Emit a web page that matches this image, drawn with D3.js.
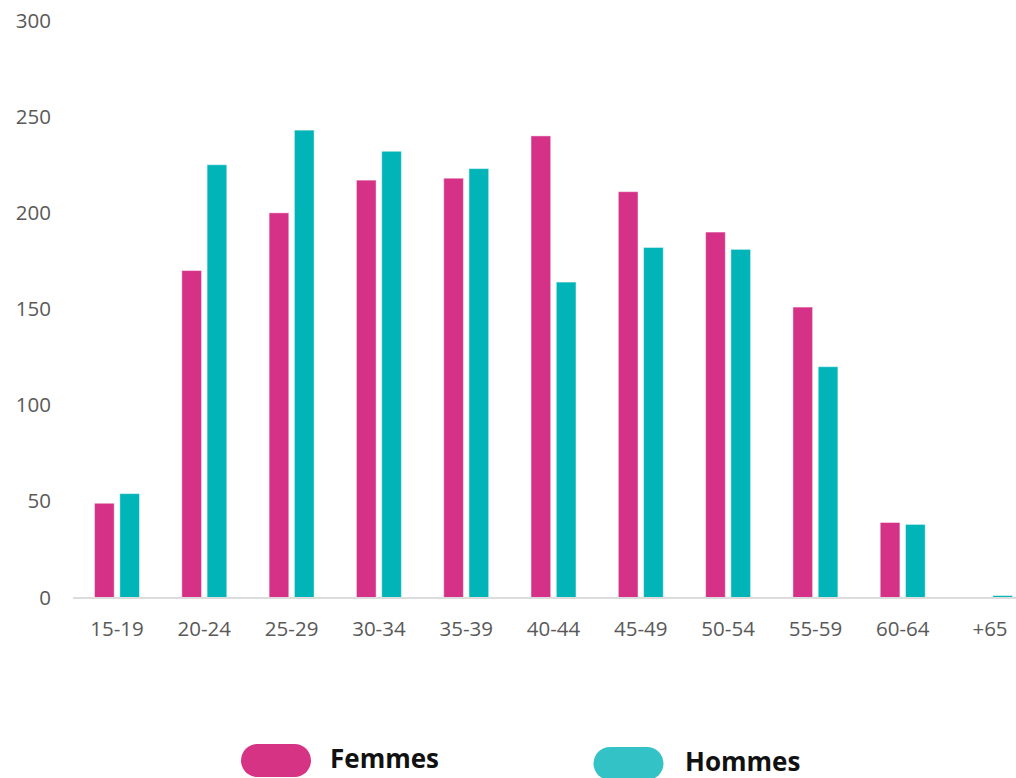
<!DOCTYPE html>
<html><head><meta charset="utf-8">
<script src="https://cdn.jsdelivr.net/npm/d3@7/dist/d3.min.js"></script>
<style>html,body{margin:0;padding:0;background:#fff;overflow:hidden}</style>
</head><body>
<script>
const categories = ["15-19","20-24","25-29","30-34","35-39","40-44","45-49","50-54","55-59","60-64","+65"];
const femmes = [49,170,200,217,218,240,211,190,151,39,0];
const hommes = [54,225,243,232,223,164,182,181,120,38,1];
const yTicks = [0,50,100,150,200,250,300];
const seriesNames = ["Femmes","Hommes"];
const barColors = ["#d53287","#00b4b8"];
const legendColors = ["#d63384","#33c2c6"];

const W=1016,H=778;
const svg=d3.select("body").append("svg").attr("width",W).attr("height",H)
  .style("font-family","'Open Sans', sans-serif");

const y=d3.scaleLinear().domain([0,300]).range([597.5,20.5]);
const x0=d3.scaleBand().domain(categories).range([73.35,1033.65]).paddingInner(0.485).paddingOuter(0.2425);
const x1=d3.scaleBand().domain(seriesNames).range([0,x0.bandwidth()]).paddingInner(0.222).paddingOuter(0);

// y labels
const yAxis=d3.axisLeft(y).tickValues(yTicks).tickSize(0).tickPadding(0);
const gy=svg.append("g").attr("transform","translate(51,0)").call(yAxis);
gy.select(".domain").remove();
gy.selectAll("text").attr("fill","#595959").style("font-size","20.5px").style("font-family","'Open Sans', sans-serif");

// bars
const data=categories.map((c,i)=>({c,vals:[femmes[i],hommes[i]]}));
const groups=svg.append("g").selectAll("g").data(data).join("g")
  .attr("transform",d=>`translate(${x0(d.c)},0)`);
groups.selectAll("rect").data(d=>d.vals.map((v,j)=>({v,j}))).join("rect")
  .attr("x",d=>x1(seriesNames[d.j]))
  .attr("width",x1.bandwidth())
  .attr("y",d=>y(d.v))
  .attr("height",d=>y(0)-y(d.v))
  .attr("fill",d=>barColors[d.j])
  .attr("stroke","rgba(255,255,255,0.45)")
  .attr("stroke-width",1);

// x axis
const xAxis=d3.axisBottom(x0).tickSize(0).tickPadding(0);
const gx=svg.append("g").attr("transform","translate(0,598)").call(xAxis);
gx.select(".domain").attr("stroke","#dcdcdc").attr("stroke-width",2).attr("d","M73,0H1034");
gx.selectAll("text").attr("fill","#595959").attr("dy","0").attr("y",38).style("font-size","20.5px").style("font-family","'Open Sans', sans-serif");

// legend
const leg=[{x:241,y:744,tx:330,ty:767.5},{x:593.5,y:747,tx:685,ty:771}];
seriesNames.forEach((n,i)=>{
  svg.append("rect").attr("x",leg[i].x).attr("y",leg[i].y).attr("width",70).attr("height",33)
    .attr("rx",16.5).attr("fill",legendColors[i]);
  svg.append("text").attr("x",leg[i].tx).attr("y",leg[i].ty).text(n)
    .attr("fill","#111").style("font-weight","bold").style("font-size","26px");
});
</script>
</body></html>
